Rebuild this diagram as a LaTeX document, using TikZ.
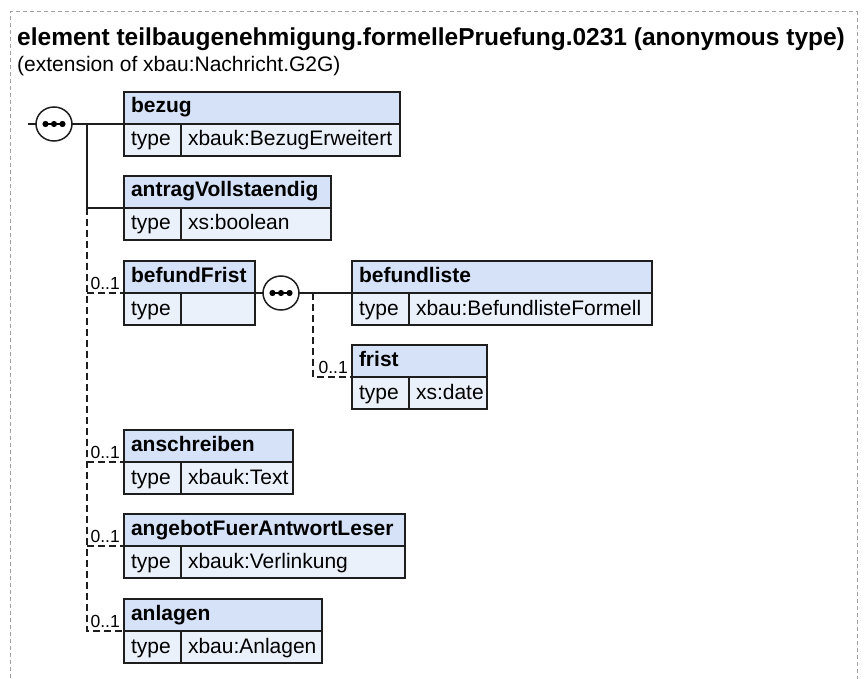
\documentclass[tikz,border=0pt]{standalone}
\usepackage{fontspec}
\setmainfont{Liberation Sans}
\usetikzlibrary{shapes.geometric}
\definecolor{hdrfill}{HTML}{D6E2F7}
\definecolor{typfill}{HTML}{EBF1FB}
\definecolor{bord}{HTML}{1E1E1E}
\definecolor{framec}{HTML}{A0A0A0}
\newcommand\elembox[6]{%
  \pgfmathsetmacro\twA{#4-14}%
  \pgfmathsetmacro\twB{#4-57-14}%
  \node[hdr, text width=\twA pt] (#1) at (#2,#3) {#5};
  \node[typ, text width=43pt] (#1-t) at (#2,#3+32) {type};
  \node[typ, text width=\twB pt] (#1-v) at (#2+57,#3+32) {#6};
}
\newcommand\seqsym[2]{%
  \node[seq] (#1) at (#2) {};
  \draw[line width=1.6pt] ([xshift=-8.5pt]#1.center) -- ([xshift=8.5pt]#1.center);
  \foreach \d in {-8.5,0,8.5} \fill (#1.center) ++(\d,0) circle (3.1);
}
\begin{document}
\begin{tikzpicture}[x=1pt,y=-1pt,
  hdr/.style={draw=bord, fill=hdrfill, line width=1.5pt, anchor=north west, outer sep=0pt,
    minimum height=32pt, inner xsep=7pt, inner ysep=0pt, align=left,
    text height=14pt, text depth=4pt,
    font=\fontsize{21}{24}\selectfont\bfseries},
  typ/.style={hdr, fill=typfill, text height=16pt, text depth=4pt, font=\fontsize{21}{24}\selectfont},
  seq/.style={draw=bord, fill=white, ellipse, line width=1.5pt, minimum width=36pt, minimum height=34pt, inner sep=0pt},
  conn/.style={draw=bord, line width=1.5pt},
  dconn/.style={conn, dash pattern=on 7pt off 4pt},
  mult/.style={anchor=base east, inner sep=0pt, font=\fontsize{17.5}{20}\selectfont}
]
\useasboundingbox (0,0) rectangle (865,679);
\draw[framec, line width=1pt, dash pattern=on 4pt off 3pt] (10,685) -- (10,12) -- (857,12) -- (857,685);
\node[anchor=base west, inner sep=0pt, font=\fontsize{24.5}{28}\selectfont\bfseries] (title) at (17,46)
  {element teilbaugenehmigung.formellePruefung.0231 (anonymous type)};
\node[anchor=base west, inner sep=0pt, font=\fontsize{21}{24}\selectfont] (subtitle) at (17,72)
  {(extension of xbau:Nachricht.G2G)};

\elembox{bezug}{124}{92}{276}{bezug}{xbauk:BezugErweitert}
\elembox{antrag}{124}{176}{207}{antragVollstaendig}{xs:boolean}
\elembox{befundFrist}{124}{261}{131}{befundFrist}{}
\elembox{befundliste}{352}{261}{300}{befundliste}{xbau:BefundlisteFormell}
\elembox{frist}{352}{345}{135}{frist}{xs:date}
\elembox{anschreiben}{124}{430}{169}{anschreiben}{xbauk:Text}
\elembox{angebot}{124}{514}{281}{angebotFuerAntwortLeser}{xbauk:Verlinkung}
\elembox{anlagen}{124}{599}{198}{anlagen}{xbau:Anlagen}

\coordinate (in1) at (28,124);
\coordinate (trunk) at (87,124);
\coordinate (trunk2) at (313,293);

\draw[conn] (in1) -- (54,124);
\draw[conn] (54,124) -- (bezug.south west);
\draw[conn] (trunk) |- (antrag.south west);
\draw[dconn] (antrag.south west -| trunk) -- (anlagen.south west -| trunk) -- (anlagen.south west);
\draw[dconn] (befundFrist.south west -| trunk) -- (befundFrist.south west);
\draw[dconn] (anschreiben.south west -| trunk) -- (anschreiben.south west);
\draw[dconn] (angebot.south west -| trunk) -- (angebot.south west);
\seqsym{s1}{54,124}

\draw[conn] (befundFrist.south east) -- (befundliste.south west);
\draw[dconn] (trunk2) |- (frist.south west);
\seqsym{s2}{281,293}

\node[mult] (m1) at ([shift={(-4,-4)}]befundFrist.south west) {0..1};
\node[mult] (m2) at ([shift={(-4,-4)}]frist.south west) {0..1};
\node[mult] (m3) at ([shift={(-4,-4)}]anschreiben.south west) {0..1};
\node[mult] (m4) at ([shift={(-4,-4)}]angebot.south west) {0..1};
\node[mult] (m5) at ([shift={(-4,-4)}]anlagen.south west) {0..1};
\end{tikzpicture}
\end{document}
